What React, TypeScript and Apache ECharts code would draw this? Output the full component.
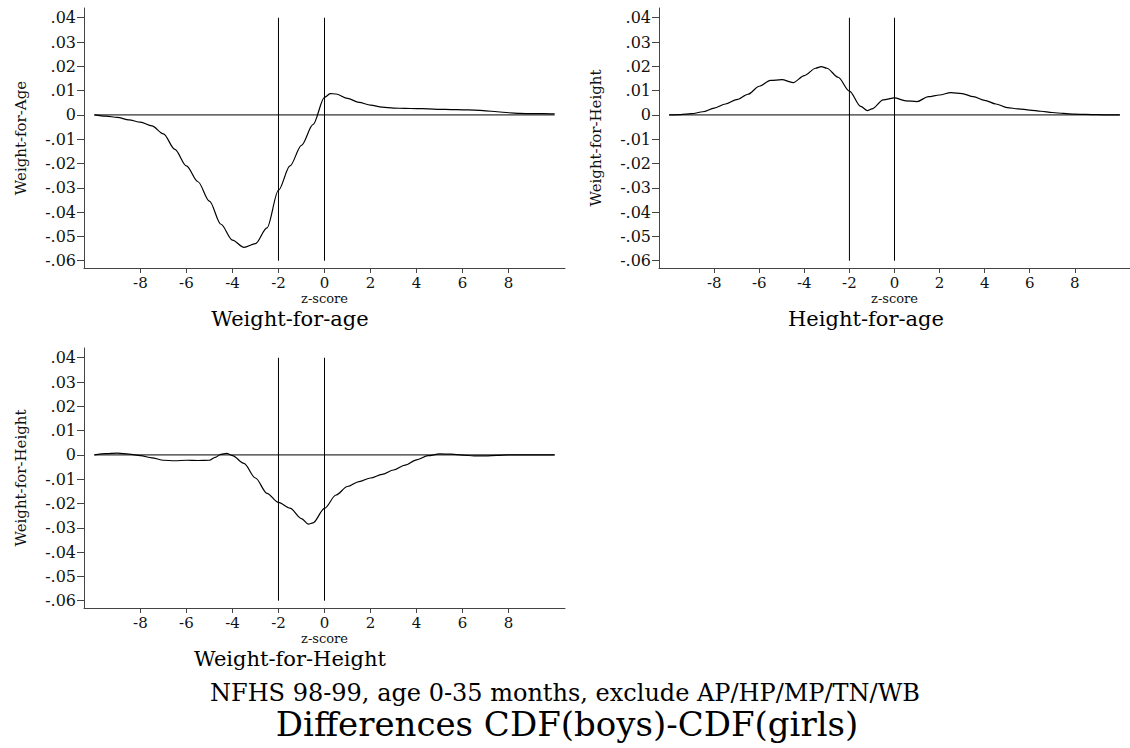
import React, { useEffect, useRef } from "react";
import * as echarts from "echarts";

// ---------- data ----------
const wfaZ = [-10, -9.5, -9, -8.5, -8, -7.5, -7, -6.5, -6, -5.5, -5, -4.5, -4, -3.5, -3, -2.5, -2, -1.5, -1, -0.5, 0, 0.25, 0.5, 1, 1.5, 2, 2.5, 3, 3.5, 4, 4.5, 5, 5.5, 6, 6.5, 7, 7.5, 8, 8.5, 9, 9.5, 10];
const wfaV = [0, -0.0005, -0.001, -0.002, -0.003, -0.0045, -0.0078, -0.0142, -0.021, -0.0275, -0.0355, -0.045, -0.0515, -0.0545, -0.053, -0.0465, -0.031, -0.021, -0.0125, -0.004, 0.0072, 0.0088, 0.0086, 0.0068, 0.0052, 0.004, 0.0032, 0.0028, 0.0027, 0.0026, 0.0025, 0.0023, 0.0022, 0.0021, 0.002, 0.0017, 0.0013, 0.0009, 0.0006, 0.0005, 0.0005, 0.0004];

const hfaZ = [-10, -9.5, -9, -8.5, -8, -7.5, -7, -6.5, -6, -5.5, -5, -4.5, -4, -3.5, -3.25, -3, -2.5, -2, -1.5, -1.2, -1, -0.5, 0, 0.5, 1, 1.5, 2, 2.5, 3, 3.5, 4, 4.5, 5, 5.5, 6, 6.5, 7, 7.5, 8, 8.5, 9, 9.5, 10];
const hfaV = [0, 0.0001, 0.0005, 0.0013, 0.0028, 0.0045, 0.0063, 0.0085, 0.0118, 0.0142, 0.0145, 0.0133, 0.0162, 0.0192, 0.0199, 0.0192, 0.0155, 0.0098, 0.0035, 0.0018, 0.0025, 0.0062, 0.007, 0.0058, 0.0055, 0.0075, 0.0082, 0.0092, 0.0088, 0.0075, 0.006, 0.0045, 0.003, 0.0025, 0.002, 0.0015, 0.001, 0.0006, 0.0003, 0.0002, 0.0001, 0, 0];

const wfhZ = [-10, -9.5, -9, -8.5, -8, -7.5, -7, -6.5, -6, -5.5, -5, -4.75, -4.5, -4.25, -4, -3.5, -3, -2.5, -2, -1.5, -1, -0.7, -0.5, 0, 0.5, 1, 1.5, 2, 2.5, 3, 3.5, 4, 4.5, 5, 5.5, 6, 6.5, 7, 7.5, 8, 9, 10];
const wfhV = [0, 0.0005, 0.0007, 0.0003, -0.0003, -0.0012, -0.0022, -0.0024, -0.0022, -0.0023, -0.0022, -0.001, 0.0002, 0.0006, -0.0003, -0.0035, -0.0095, -0.0158, -0.0195, -0.0219, -0.0262, -0.0285, -0.028, -0.022, -0.0165, -0.013, -0.011, -0.0095, -0.008, -0.0062, -0.0042, -0.002, -0.0003, 0.0004, 0.0003, -0.0001, -0.0004, -0.0004, -0.0002, 0, 0, 0];

const xTicks = [-8, -6, -4, -2, 0, 2, 4, 6, 8];
const yTicks = [-0.06, -0.05, -0.04, -0.03, -0.02, -0.01, 0, 0.01, 0.02, 0.03, 0.04];
const cutoffs = [-2, 0];
const cutoffRange = [-0.06, 0.04];
const zeroLineRange = [-10, 10];

const panelTitles = ["Weight-for-age", "Height-for-age", "Weight-for-Height"];
const yTitles = ["Weight-for-Age", "Weight-for-Height", "Weight-for-Height"];
const xTitle = "z-score";
const note = "NFHS 98-99, age 0-35 months, exclude AP/HP/MP/TN/WB";
const mainTitle = "Differences CDF(boys)-CDF(girls)";

// ---------- helpers ----------
const FONT = '"DejaVu Serif", serif';

const fmtY = (v: number) => {
  const r = Math.round(v * 100) / 100;
  if (Math.abs(r) < 1e-9) return "0";
  const s = Math.abs(r).toFixed(2).replace(/^0/, "");
  return (r < 0 ? "-" : "") + s;
};

const pairs = (xs: number[], ys: number[]) => xs.map((x, i) => [x, ys[i]]);

export default function App() {
  const ref = useRef<HTMLDivElement>(null);

  useEffect(() => {
    document.body.style.margin = "0";
    if (!ref.current) return;
    const chart = echarts.init(ref.current, null, { renderer: "svg" });

    const grids = [
      { left: 84, top: 8, width: 481, height: 260 },
      { left: 659, top: 8, width: 481, height: 260 },
      { left: 84, top: 348, width: 481, height: 260 },
    ];
    const curves = [pairs(wfaZ, wfaV), pairs(hfaZ, hfaV), pairs(wfhZ, wfhV)];

    const xAxes = grids.map((_, i) => ({
      type: "value",
      gridIndex: i,
      min: -10.45,
      max: 10.45,
      splitLine: { show: false },
      axisLine: { show: true, onZero: false, lineStyle: { color: "#444", width: 1 } },
      axisTick: { show: true, length: 5, customValues: xTicks, lineStyle: { color: "#444" } },
      axisLabel: { customValues: xTicks, margin: 7, fontSize: 15, fontFamily: FONT, color: "#111" },
      name: xTitle,
      nameLocation: "middle",
      nameGap: 24,
      nameTextStyle: { fontSize: 13, fontFamily: FONT, color: "#111" },
    }));
    const yAxes = grids.map((_, i) => ({
      type: "value",
      gridIndex: i,
      min: -0.063,
      max: 0.044,
      splitLine: { show: false },
      axisLine: { show: true, onZero: false, lineStyle: { color: "#444", width: 1 } },
      axisTick: { show: true, length: 7, customValues: yTicks, lineStyle: { color: "#444" } },
      axisLabel: { customValues: yTicks, margin: 8, fontSize: 16, fontFamily: FONT, color: "#111", formatter: fmtY },
      name: yTitles[i],
      nameLocation: "middle",
      nameGap: 56,
      nameTextStyle: { fontSize: 15, fontFamily: FONT, color: "#111" },
    }));

    const series: any[] = [];
    grids.forEach((_, i) => {
      const lineBase = {
        type: "line",
        xAxisIndex: i,
        yAxisIndex: i,
        symbol: "none",
        silent: true,
      };
      series.push({ ...lineBase, data: zeroLineRange.map((z) => [z, 0]), lineStyle: { color: "#000", width: 1 } });
      cutoffs.forEach((c) => {
        series.push({ ...lineBase, data: cutoffRange.map((v) => [c, v]), lineStyle: { color: "#000", width: 1 } });
      });
      series.push({ ...lineBase, data: curves[i], smooth: 0.3, smoothMonotone: "x", lineStyle: { color: "#000", width: 1.2 } });
    });

    const txt = (text: string, x: number, y: number, size: number) => ({
      type: "text",
      x,
      y,
      silent: true,
      style: { text, fontSize: size, fontFamily: FONT, fill: "#000", align: "center", verticalAlign: "middle" },
    });

    chart.setOption({
      animation: false,
      backgroundColor: "#fff",
      grid: grids,
      xAxis: xAxes,
      yAxis: yAxes,
      series,
      graphic: [
        txt(panelTitles[0], 290, 319, 21),
        txt(panelTitles[1], 866, 319, 21),
        txt(panelTitles[2], 290, 659, 21),
        txt(note, 565, 693, 24),
        txt(mainTitle, 567, 724, 34),
      ],
    });
    return () => chart.dispose();
  }, []);

  return <div ref={ref} style={{ width: 1130, height: 748 }} />;
}
